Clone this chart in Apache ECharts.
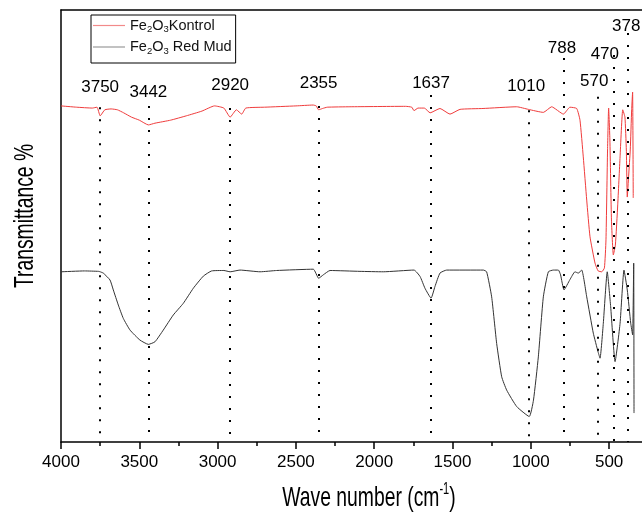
<!DOCTYPE html>
<html>
<head>
<meta charset="utf-8">
<script src="https://cdn.jsdelivr.net/npm/echarts@6/dist/echarts.min.js"></script>
<style>
  html, body { margin: 0; padding: 0; background: #fff; }
  #chart { width: 642px; height: 515px; }
</style>
</head>
<body>
<div id="chart"></div>
<script>
// FTIR spectra, wave number (cm-1) vs transmittance (arbitrary units, offset curves)
const waveKontrol = [4000, 3900, 3800, 3770, 3750, 3720, 3680, 3640, 3600, 3550, 3500, 3442, 3400, 3300, 3200, 3100,
  3020, 2960, 2920, 2880, 2846, 2820, 2700, 2500, 2390, 2370, 2355, 2330, 2300, 2155, 1800, 1760, 1746, 1720, 1680,
  1643, 1580, 1516, 1452, 1305, 1090, 1016, 920, 867, 792, 750, 707, 686, 665, 643, 622, 590, 570, 547, 530, 520,
  510, 503, 495, 485, 473, 460, 445, 430, 413, 399, 390, 384, 375, 365, 356, 350, 346];
const transKontrol = [77.8, 77.5, 77.3, 77.5, 75.5, 76.9, 77.1, 76.9, 76.2, 75.2, 74.5, 73.4, 73.8, 74.5, 75.5, 76.6,
  77.8, 77.3, 75.2, 76.9, 75.9, 77.3, 77.5, 77.8, 78.0, 77.8, 76.9, 77.2, 77.5, 77.6, 77.7, 77.5, 76.7, 77.3, 77.3,
  76.2, 77.2, 75.9, 77.0, 77.2, 77.6, 77.0, 76.3, 77.6, 75.9, 77.5, 77.2, 74.5, 66.0, 56.0, 47.5, 41.4, 39.6, 39.4, 40.3, 46.8,
  67.6, 77.3, 69.9, 51.4, 43.3, 45.6, 54.9, 66.0, 76.9, 75.2, 67.6, 56.7, 61.8, 67.6, 76.9, 81.0, 56.5];

const waveRedMud = [4000, 3850, 3760, 3750, 3730, 3687, 3666, 3634, 3602, 3559, 3496, 3442, 3400, 3347, 3283, 3219,
  3155, 3091, 3038, 2960, 2920, 2857, 2729, 2623, 2389, 2355, 2325, 2282, 2091, 1942, 1746, 1707, 1676, 1637, 1612,
  1580, 1537, 1303, 1282, 1250, 1218, 1186, 1154, 1090, 1010, 983, 952, 920, 888, 856, 824, 810, 788, 750, 718, 697,
  675, 643, 601, 570, 558, 537, 512, 490, 462, 430, 405, 384, 362, 350, 343, 341];
const transRedMud = [39.4, 39.6, 39.5, 39.4, 39.1, 37.5, 35.2, 31.7, 28.6, 25.9, 23.6, 22.6, 23.2, 25.9, 29.4, 32.1,
  35.6, 38.4, 39.6, 39.7, 39.4, 39.8, 39.4, 39.7, 40.0, 37.9, 38.7, 39.7, 39.5, 39.4, 39.8, 38.3, 35.6, 33.3, 36.0,
  39.1, 39.8, 39.8, 39.4, 33.6, 22.8, 15.1, 12.0, 8.2, 5.9, 9.7, 19.7, 33.6, 39.4, 39.8, 39.8, 38.7, 35.2, 37.6, 39.4, 39.1,
  39.8, 33.6, 25.2, 20.8, 19.4, 27.5, 39.4, 31.3, 18.6, 27.5, 39.8, 35.2, 27.5, 24.8, 41.4, 6.7];

// assigned peaks, and the transmittance level where each marker line starts
const peakWaves = [3750, 3442, 2920, 2355, 1637, 1010, 788, 570, 470, 378];
const peakLineTops = [77.5, 77.8, 77.3, 77.8, 80.3, 79.6, 88.9, 79.9, 89.6, 94.7];

const majorTicks = [4000, 3500, 3000, 2500, 2000, 1500, 1000, 500];
const minorTicks = [3750, 3250, 2750, 2250, 1750, 1250, 750];

// label placement for the peak numbers (level on y scale, x nudge in px)
const labelLevel = [82.2, 81.0, 82.6, 83.1, 83.1, 82.4, 91.2, 83.6, 89.8, 96.3];
const labelDx = [0, 0, 0, 0, 0, -3, -2, -4, -9, -2];

const zip = (a, b) => a.map((v, i) => [v, b[i]]);

const FONT = 'Liberation Sans, Arial, sans-serif';
const RED = '#f03c3c';
const BLACK = '#333333';

const chart = echarts.init(document.getElementById('chart'), null, { renderer: 'canvas' });

const subRich = {
  n: { fontFamily: FONT, fontSize: 14.5, color: '#111', lineHeight: 18, verticalAlign: 'middle' },
  s: { fontFamily: FONT, fontSize: 9.5, color: '#111', lineHeight: 9, verticalAlign: 'bottom' }
};

const xBase = { type: 'value', min: 290, max: 4000, inverse: true, splitLine: { show: false } };

chart.setOption({
  animation: false,
  backgroundColor: '#fff',
  grid: { left: 61, top: 10, right: 0, bottom: 73 },
  legend: {
    orient: 'vertical',
    left: 91,
    top: 15,
    padding: [3, 4, 7, 2],
    itemGap: 5,
    itemWidth: 32,
    itemHeight: 1.2,
    icon: 'rect',
    borderColor: '#000',
    borderWidth: 1,
    borderRadius: 0,
    data: [
      { name: 'Fe2O3Kontrol', itemStyle: { color: '#f28a8a' } },
      { name: 'Fe2O3 Red Mud', itemStyle: { color: '#999999' } }
    ],
    formatter: function (name) {
      if (name === 'Fe2O3Kontrol') return '{n|Fe}{s|2}{n|O}{s|3}{n|Kontrol}';
      return '{n|Fe}{s|2}{n|O}{s|3}{n| Red Mud}';
    },
    textStyle: { rich: subRich, padding: [0, 0, 0, 0] }
  },
  xAxis: [
    Object.assign({}, xBase, {
      position: 'bottom',
      axisLine: { show: true, onZero: false, lineStyle: { color: '#000', width: 1.5 } },
      axisTick: { show: true, customValues: majorTicks, length: 7, inside: false, lineStyle: { color: '#000', width: 1.5 } },
      axisLabel: {
        show: true, customValues: majorTicks, margin: 12, fontSize: 17, fontFamily: FONT, color: '#000',
        formatter: v => String(v)
      }
    }),
    Object.assign({}, xBase, {
      position: 'bottom',
      axisLine: { show: false },
      axisTick: { show: true, customValues: minorTicks, length: 4, inside: false, lineStyle: { color: '#000', width: 1.5 } },
      axisLabel: { show: false }
    }),
    Object.assign({}, xBase, {
      position: 'top',
      axisLine: { show: true, onZero: false, lineStyle: { color: '#000', width: 1.5 } },
      axisTick: { show: false },
      axisLabel: { show: false }
    })
  ],
  yAxis: {
    type: 'value',
    min: 0,
    max: 100,
    axisLine: { show: true, onZero: false, lineStyle: { color: '#000', width: 1.5 } },
    axisTick: { show: false },
    axisLabel: { show: false },
    splitLine: { show: false }
  },
  series: [
    {
      name: 'Fe2O3Kontrol',
      type: 'line',
      xAxisIndex: 0,
      data: zip(waveKontrol, transKontrol),
      symbol: 'none',
      smooth: 0.15,
      lineStyle: { color: RED, width: 1 },
      itemStyle: { color: RED },
      z: 3
    },
    {
      name: 'Fe2O3 Red Mud',
      type: 'line',
      xAxisIndex: 0,
      data: zip(waveRedMud, transRedMud),
      symbol: 'none',
      smooth: 0.15,
      lineStyle: { color: BLACK, width: 1 },
      itemStyle: { color: BLACK },
      z: 3
    },
    {
      name: 'peaks',
      type: 'scatter',
      xAxisIndex: 0,
      symbolSize: 0,
      clip: false,
      silent: true,
      z: 5,
      itemStyle: { opacity: 1, color: '#000' },
      data: peakWaves.map((w, i) => ({ value: [w, labelLevel[i]], label: { offset: [labelDx[i], 0] } })),
      label: {
        show: true,
        position: 'inside',
        formatter: p => String(p.value[0]),
        fontSize: 17,
        fontFamily: FONT,
        color: '#000',
        opacity: 1,
        textBorderWidth: 0,
        textBorderColor: 'transparent'
      },
      markLine: {
        symbol: 'none',
        silent: true,
        animation: false,
        label: { show: false },
        lineStyle: { type: [2, 10], width: 2, color: '#000', opacity: 1 },
        data: peakWaves.map((w, i) => [{ coord: [w, peakLineTops[i]] }, { coord: [w, 0] }])
      }
    }
  ],
  graphic: [
    {
      type: 'text',
      x: 25,
      y: 216,
      rotation: Math.PI / 2,
      scaleX: 0.69,
      style: {
        text: 'Transmittance %',
        font: '28px ' + FONT,
        fill: '#000',
        align: 'center',
        verticalAlign: 'middle'
      }
    },
    {
      type: 'text',
      x: 369,
      y: 498,
      scaleX: 0.69,
      style: {
        text: '{a|Wave number (cm}{b|-1}{a|)}',
        fill: '#000',
        align: 'center',
        verticalAlign: 'middle',
        rich: {
          a: { fontFamily: FONT, fontSize: 28, lineHeight: 32, fill: '#000', verticalAlign: 'middle' },
          b: { fontFamily: FONT, fontSize: 16, lineHeight: 16, fill: '#000', verticalAlign: 'top' }
        }
      }
    }
  ]
});
</script>
</body>
</html>
